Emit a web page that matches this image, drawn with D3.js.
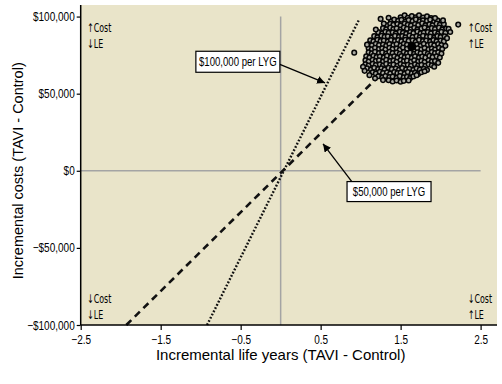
<!DOCTYPE html>
<html><head><meta charset="utf-8">
<script src="https://cdn.jsdelivr.net/npm/d3@7"></script>
<style>
html,body{margin:0;padding:0;background:#fff;}
svg{display:block;}
.nar{font-family:"Liberation Sans",Arial,sans-serif;}
</style></head>
<body>
<svg id="c" width="502" height="384"></svg>
<script>
// ---- data ----
const xTicks = [-2.5, -1.5, -0.5, 0.5, 1.5, 2.5];
const xTickLabels = ["\u22122.5", "\u22121.5", "\u22120.5", "0.5", "1.5", "2.5"];
const yTicks = [100000, 50000, 0, -50000, -100000];
const yTickLabels = ["$100,000", "$50,000", "$0", "\u2212$50,000", "\u2212$100,000"];
const xTitle = "Incremental life years (TAVI - Control)";
const yTitle = "Incremental costs (TAVI - Control)";
// willingness-to-pay threshold lines (endpoints)
const wtp100kX = [-0.92, 0.98];
const wtp100kY = [-100000, 98000];
const wtp50kX = [-1.93, 1.2];
const wtp50kY = [-100000, 60000];
const wtpLabels = ["$100,000 per LYG", "$50,000 per LYG"];
// mean incremental result
const meanPoint = [1.64, 80500];
// bootstrap replicates (estimated)
const cloud = [
[1.50,99500],[1.55,100800],[1.59,99200],[1.64,100300],[1.69,99600],[1.73,100900],[1.78,99300],[1.83,100100],[1.88,99000],
[1.38,97000],[1.42,98100],[1.47,97300],[1.51,97900],[1.56,96800],[1.60,97700],[1.65,97100],[1.69,98200],[1.74,96900],[1.78,97600],[1.83,97200],[1.87,98000],[1.92,96700],[1.96,97500],
[1.33,94400],[1.37,95300],[1.41,94600],[1.46,95100],[1.50,94200],[1.55,95500],[1.59,94700],[1.63,94100],[1.68,95200],[1.72,94500],[1.77,95600],[1.81,94300],[1.86,95000],[1.90,94400],[1.95,95400],[1.99,94700],[2.04,95100],
[1.28,92500],[1.32,91700],[1.37,92800],[1.41,91900],[1.45,92400],[1.50,91600],[1.54,92900],[1.58,92100],[1.63,91800],[1.67,92700],[1.71,91500],[1.76,92300],[1.80,92900],[1.85,91700],[1.89,92500],[1.93,91900],[1.98,92800],[2.02,91600],[2.07,92300],
[1.22,89900],[1.27,89100],[1.31,90200],[1.35,89400],[1.40,89800],[1.44,89000],[1.49,90100],[1.53,89500],[1.57,88900],[1.62,89900],[1.66,89300],[1.71,90300],[1.75,89100],[1.79,89700],[1.84,90000],[1.88,89200],[1.93,89800],[1.97,89000],[2.01,90100],[2.06,89500],
[1.17,87300],[1.21,86500],[1.26,87600],[1.30,86800],[1.34,87200],[1.39,86400],[1.43,87500],[1.48,86900],[1.52,87400],[1.56,86600],[1.61,87700],[1.65,86700],[1.70,87300],[1.74,86500],[1.78,87600],[1.83,86800],[1.87,87100],[1.92,86300],[1.96,87400],[2.00,86700],[2.05,87200],
[1.12,84600],[1.16,83900],[1.21,84900],[1.25,84100],[1.29,84500],[1.34,83800],[1.38,84800],[1.43,84200],[1.47,84700],[1.51,83900],[1.56,85000],[1.60,84300],[1.65,84600],[1.69,83700],[1.73,84900],[1.78,84100],[1.82,84400],[1.87,83800],[1.91,84800],[1.95,84000],[2.00,84500],[2.04,83900],
[1.10,82000],[1.14,81300],[1.19,82300],[1.23,81500],[1.28,81900],[1.32,81100],[1.36,82200],[1.41,81600],[1.45,82100],[1.50,81200],[1.54,82400],[1.58,81700],[1.70,81900],[1.75,81100],[1.79,82300],[1.84,81500],[1.88,82000],[1.92,81300],[1.97,82200],[2.01,81600],
[1.10,79500],[1.14,78700],[1.18,79800],[1.23,79000],[1.27,79400],[1.31,78600],[1.36,79700],[1.40,78900],[1.45,79300],[1.49,78500],[1.53,79900],[1.58,79100],[1.71,79400],[1.76,78700],[1.80,79600],[1.85,78800],[1.89,79300],[1.93,78600],[1.98,79700],[2.02,79000],
[1.10,76900],[1.14,76100],[1.18,77200],[1.23,76400],[1.27,76800],[1.32,76000],[1.36,77100],[1.40,76300],[1.45,76700],[1.49,75900],[1.54,77000],[1.58,76200],[1.62,76600],[1.67,75800],[1.71,76900],[1.75,76200],[1.80,76700],[1.84,75900],[1.89,77000],[1.93,76300],[1.97,76800],[2.01,76000],
[1.07,74300],[1.11,73500],[1.16,74600],[1.20,73800],[1.24,74100],[1.29,73400],[1.33,74500],[1.38,73700],[1.42,74200],[1.46,73300],[1.51,74400],[1.55,73600],[1.59,74000],[1.64,73200],[1.68,74300],[1.73,73500],[1.77,74100],[1.81,73400],[1.86,74500],[1.90,73700],[1.95,74200],[1.99,73500],
[1.06,71700],[1.10,70900],[1.15,72000],[1.19,71200],[1.23,71600],[1.28,70800],[1.32,71900],[1.37,71100],[1.41,71500],[1.45,70700],[1.50,71800],[1.54,71000],[1.58,71400],[1.63,70600],[1.67,71700],[1.72,70900],[1.76,71300],[1.80,70500],[1.85,71600],[1.89,70800],[1.93,71200],
[1.06,69100],[1.10,68300],[1.15,69400],[1.19,68600],[1.24,69000],[1.28,68200],[1.32,69300],[1.37,68500],[1.41,68900],[1.46,68100],[1.50,69200],[1.54,68400],[1.59,68800],[1.63,68000],[1.68,69100],[1.72,68300],[1.76,68700],[1.81,68000],[1.85,69000],[1.89,68400],
[1.08,66500],[1.13,65700],[1.17,66800],[1.22,66000],[1.26,66400],[1.30,65600],[1.35,66700],[1.39,65900],[1.44,66300],[1.48,65500],[1.52,66600],[1.57,65800],[1.61,66200],[1.66,65500],[1.70,66500],[1.74,65700],[1.79,66100],[1.83,65400],
[1.15,63900],[1.19,63100],[1.24,64200],[1.28,63400],[1.33,63800],[1.37,63000],[1.42,64100],[1.46,63300],[1.50,63700],[1.55,62900],[1.59,64000],[1.64,63200],[1.68,63600],[1.72,62800],[1.76,63900],
[1.22,61300],[1.27,60500],[1.31,61500],[1.36,60700],[1.40,61100],[1.45,60300],[1.49,61400],[1.54,60600],[1.58,61000],[1.62,60200],[1.66,61200],
[1.35,58700],[1.40,57900],[1.45,58500],[1.50,57700],[1.54,58300],
[1.03,67500],[1.05,64800],[1.11,62000],[1.18,60000],[1.28,58800],[1.60,58600],[1.70,62000],[1.80,64500],[1.92,67500],[1.97,70000],
[2.06,81000],[2.08,86000],[2.10,92000],[2.03,97500],[1.93,99000],[1.35,99200],[1.29,95500],
[1.25,98500],[1.19,91600],[1.08,81800],[0.92,76600],[2.12,90000],[2.22,94800]
];
// quadrant labels
const quadX = [-2.42, 2.34, -2.42, 2.34];
const quadY = [100000, 100000, -76000, -76000];
const quadL1 = ["\u2191Cost", "\u2191Cost", "\u2193Cost", "\u2193Cost"];
const quadL2 = ["\u2193LE", "\u2191LE", "\u2193LE", "\u2191LE"];

// ---- chart ----
const svg = d3.select("#c");
const x = d3.scaleLinear().domain([-2.5, 2.705]).range([80.7, 497]);
const y = d3.scaleLinear().domain([-100000, 107500]).range([325, 5]);
const NARROW = 0.8;
function condense(sel, f) {
  sel.each(function () {
    const l = this.getComputedTextLength();
    d3.select(this).attr("textLength", l * (f || NARROW)).attr("lengthAdjust", "spacingAndGlyphs");
  });
}

svg.append("rect").attr("x", x(-2.5)).attr("y", y(107500))
  .attr("width", x(2.705) - x(-2.5)).attr("height", y(-100000) - y(107500))
  .attr("fill", "#E9E4C9");

// reference lines
svg.append("line").attr("x1", x(-2.5)).attr("x2", x(2.5)).attr("y1", y(0)).attr("y2", y(0))
  .attr("stroke", "#a4a4a4").attr("stroke-width", 1.5);
svg.append("line").attr("x1", x(0)).attr("x2", x(0)).attr("y1", y(100000)).attr("y2", y(-100000))
  .attr("stroke", "#a4a4a4").attr("stroke-width", 1.5);

// threshold lines
const lineGen = d3.line().x(d => x(d[0])).y(d => y(d[1]));
svg.append("path").datum(d3.zip(wtp100kX, wtp100kY)).attr("d", lineGen)
  .attr("fill", "none").attr("stroke", "#111").attr("stroke-width", 2.4)
  .attr("stroke-dasharray", "1.8,1.8");
svg.append("path").datum(d3.zip(wtp50kX, wtp50kY)).attr("d", lineGen)
  .attr("fill", "none").attr("stroke", "#111").attr("stroke-width", 2.6)
  .attr("stroke-dasharray", "7,5");

// cloud
svg.append("g").selectAll("circle").data(cloud).join("circle")
  .attr("cx", d => x(d[0])).attr("cy", d => y(d[1])).attr("r", 2.3)
  .attr("fill", "#a9a9a1").attr("stroke", "#050505").attr("stroke-width", 1.5);
svg.append("circle").attr("cx", x(meanPoint[0])).attr("cy", y(meanPoint[1])).attr("r", 4.5).attr("fill", "#000");

// axes
const xa = svg.append("g").attr("transform", `translate(0,${y(-100000)})`)
  .call(d3.axisBottom(x).tickValues(xTicks).tickFormat((d, i) => xTickLabels[i]).tickSize(5).tickSizeOuter(0));
xa.select(".domain").attr("d", `M${x(-2.5)},0H${x(2.705)}`).attr("stroke", "#000").attr("stroke-width", 1.5);
xa.selectAll(".tick line").attr("stroke", "#000").attr("stroke-width", 1.2);
xa.selectAll(".tick text").attr("class", "nar").attr("font-size", 12.5).attr("fill", "#000").attr("dy", "0.9em");

const ya = svg.append("g").attr("transform", `translate(${x(-2.5)},0)`)
  .call(d3.axisLeft(y).tickValues(yTicks).tickFormat((d, i) => yTickLabels[i]).tickSize(4).tickSizeOuter(0));
ya.select(".domain").attr("d", `M0,${y(107500)}V${y(-100000)}`).attr("stroke", "#000").attr("stroke-width", 1.5);
ya.selectAll(".tick line").attr("stroke", "#000").attr("stroke-width", 1.2);
ya.selectAll(".tick text").attr("class", "nar").attr("font-size", 12.5).attr("fill", "#000").attr("x", -6);
condense(xa.selectAll(".tick text"));
condense(ya.selectAll(".tick text"));

// titles
svg.append("text").attr("x", x(0)).attr("y", 360).attr("text-anchor", "middle")
  .attr("font-family", "Liberation Sans, Arial, sans-serif").attr("font-size", 15).text(xTitle);
svg.append("text").attr("transform", `translate(23,${y(0)}) rotate(-90)`).attr("text-anchor", "middle")
  .attr("font-family", "Liberation Sans, Arial, sans-serif").attr("font-size", 14.5).text(yTitle);

// quadrant labels (horizontally squeezed with a transform)
quadX.forEach((qx, i) => {
  [[quadL1[i], 15], [quadL2[i], 31]].forEach(([s, dy]) => {
    svg.append("text").attr("font-family", "DejaVu Sans").attr("font-size", 12).attr("fill", "#000")
      .attr("transform", `translate(${x(qx)},${y(quadY[i]) + dy}) scale(0.66,1)`).text(s);
  });
});

// annotations
const defs = svg.append("defs");
defs.append("marker").attr("id", "ah").attr("viewBox", "0 0 10 10").attr("refX", 10).attr("refY", 5)
  .attr("markerWidth", 8).attr("markerHeight", 8).attr("markerUnits", "userSpaceOnUse").attr("orient", "auto")
  .append("path").attr("d", "M0,0L10,5L0,10z").attr("fill", "#000");

function callout(label, bx, by, w, h, fromX, fromY, toX, toY) {
  svg.append("line").attr("x1", fromX).attr("y1", fromY).attr("x2", toX).attr("y2", toY)
    .attr("stroke", "#000").attr("stroke-width", 1.3).attr("marker-end", "url(#ah)");
  svg.append("rect").attr("x", bx).attr("y", by).attr("width", w).attr("height", h)
    .attr("fill", "#fff").attr("stroke", "#000").attr("stroke-width", 1.2);
  const t = svg.append("text").attr("class", "nar").attr("x", bx + w / 2).attr("y", by + h / 2 + 4.5)
    .attr("text-anchor", "middle").attr("font-size", 12).text(label);
  condense(t);
}
callout(wtpLabels[0], x(-1.06), y(77500), 84, 21, x(-0.01), y(69000), x(0.555), y(57000));
callout(wtpLabels[1], x(0.83), y(-7000), 84, 20, x(0.89), y(-7000), x(0.53), y(17500));
</script>
</body></html>
